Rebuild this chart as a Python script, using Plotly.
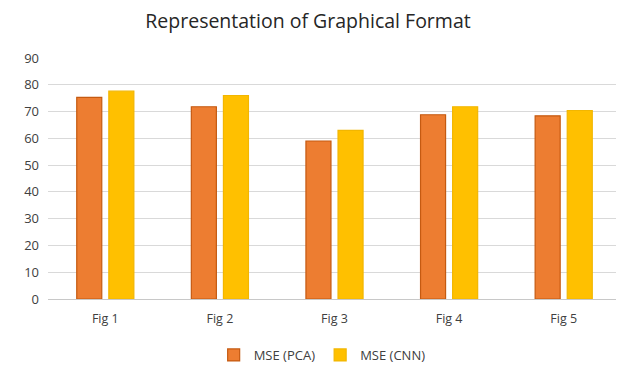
import plotly.graph_objects as go

categories = ["Fig 1", "Fig 2", "Fig 3", "Fig 4", "Fig 5"]
mse_pca = [75.3, 71.8, 59.0, 68.8, 68.4]
mse_cnn = [77.6, 76.0, 63.0, 71.8, 70.4]
y_ticks = [0, 10, 20, 30, 40, 50, 60, 70, 80, 90]

fig = go.Figure()
fig.add_trace(go.Bar(
    x=categories, y=mse_pca, name="MSE (PCA)",
    marker=dict(color="#ED7D31", line=dict(color="#C55A11", width=1.2)),
))
fig.add_trace(go.Bar(
    x=categories, y=mse_cnn, name="MSE (CNN)",
    marker=dict(color="#FFC000", line=dict(color="#F2B600", width=1.2)),
))

# page body has an 8px margin, so the figure is sized to fit the window
W, H = 616, 357
font_family = "Open Sans, Liberation Sans, sans-serif"
fig.update_layout(
    width=W, height=H,
    margin=dict(l=40, r=3, t=50, b=66, autoexpand=False),
    paper_bgcolor="white", plot_bgcolor="white",
    barmode="group", bargap=0.44, bargroupgap=0.22,
    title=dict(text="Representation of Graphical Format", x=0.487, xanchor="center",
               yref="container", y=1 - 13 / H, yanchor="middle",
               font=dict(family=font_family, size=19.5, color="#262626")),
    font=dict(family=font_family, size=12, color="#404040"),
    legend=dict(orientation="h", x=0.51, xanchor="center", xref="container",
                yref="container", y=1 - 347 / H, yanchor="middle",
                font=dict(size=13, color="#404040"),
                traceorder="normal", itemwidth=30),
    xaxis=dict(showgrid=False, ticks="", showline=False, automargin=False,
               tickfont=dict(size=12.5, color="#404040"), ticklabelstandoff=10),
    yaxis=dict(range=[0, 90], tickvals=y_ticks, showgrid=True, gridcolor="#D9D9D9",
               gridwidth=1, zeroline=True, zerolinecolor="#C8C8C8", zerolinewidth=1,
               automargin=False,
               ticks="", tickfont=dict(size=13, color="#404040"), ticklabelstandoff=8),
)

fig.write_html("out.html")
